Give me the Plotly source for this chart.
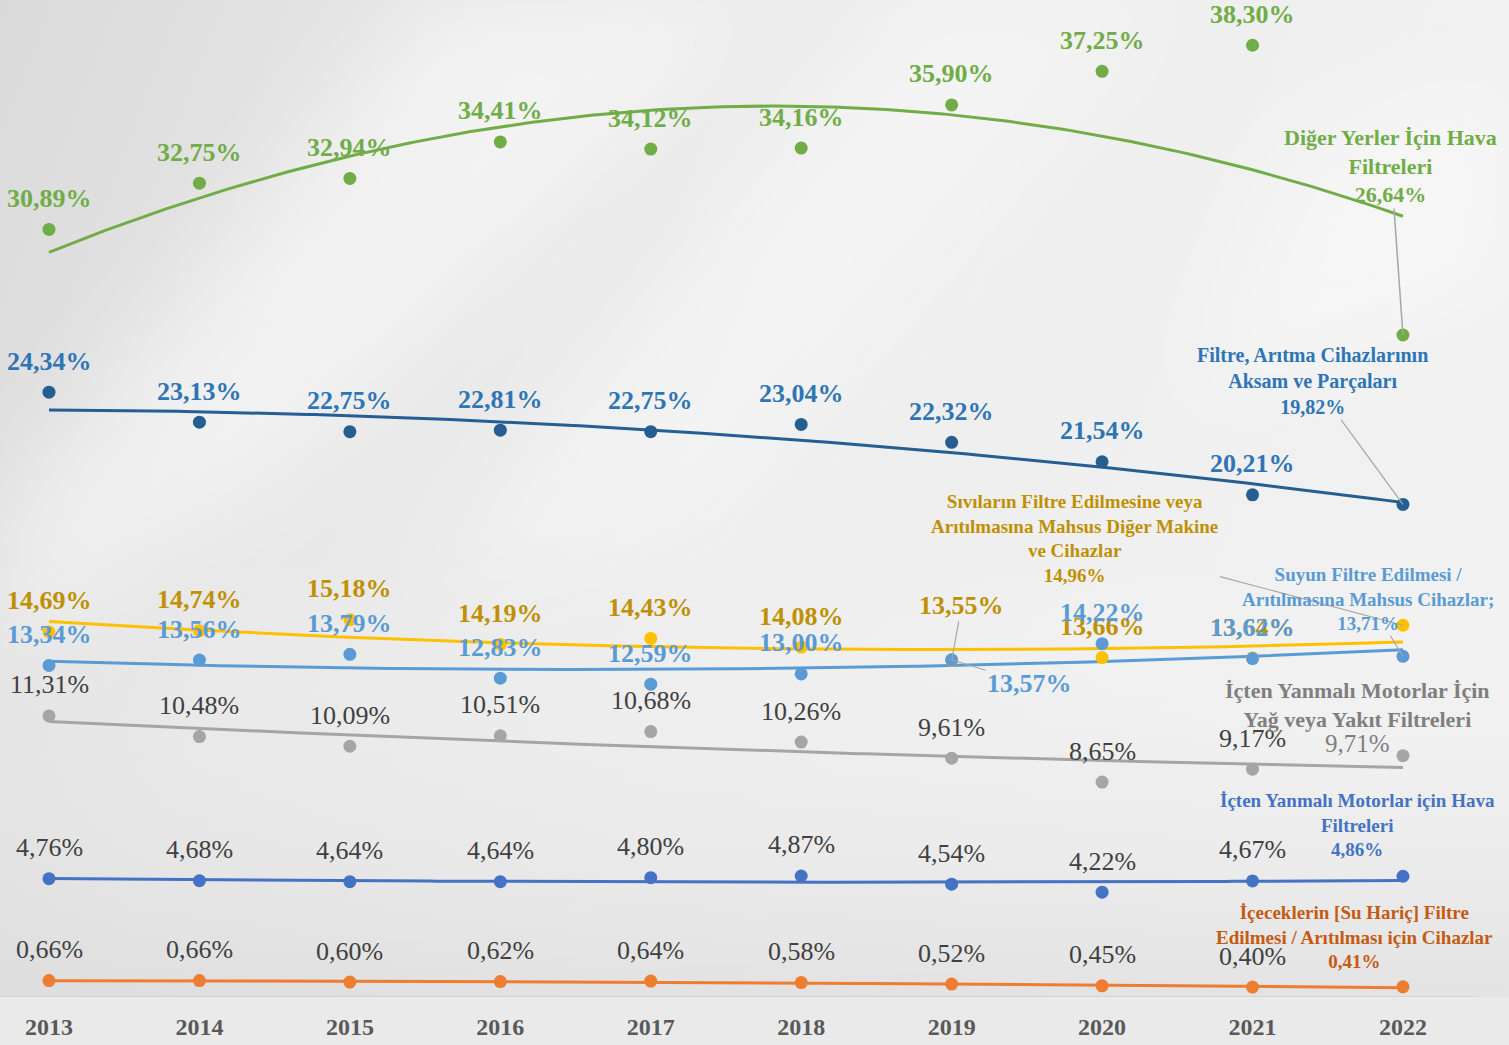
import base64
import numpy as np
import plotly.graph_objects as go

# ---------------- data ----------------
years = [2013, 2014, 2015, 2016, 2017, 2018, 2019, 2020, 2021, 2022]
year_labels = ["2013", "2014", "2015", "2016", "2017", "2018", "2019", "2020", "2021", "2022"]

name_green = "Diğer Yerler İçin Hava<br>Filtreleri"
vals_green = [30.89, 32.75, 32.94, 34.41, 34.12, 34.16, 35.90, 37.25, 38.30, 26.64]

name_darkblue = "Filtre, Arıtma Cihazlarının<br>Aksam ve Parçaları"
vals_darkblue = [24.34, 23.13, 22.75, 22.81, 22.75, 23.04, 22.32, 21.54, 20.21, 19.82]

name_yellow = "Sıvıların Filtre Edilmesine veya<br>Arıtılmasına Mahsus Diğer Makine<br>ve Cihazlar"
vals_yellow = [14.69, 14.74, 15.18, 14.19, 14.43, 14.08, 13.55, 13.66, 13.64, 14.96]

name_lightblue = "Suyun Filtre Edilmesi /<br>Arıtılmasına Mahsus Cihazlar;"
vals_lightblue = [13.34, 13.56, 13.79, 12.83, 12.59, 13.00, 13.57, 14.22, 13.62, 13.71]

name_gray = "İçten Yanmalı Motorlar İçin<br>Yağ veya Yakıt Filtreleri"
vals_gray = [11.31, 10.48, 10.09, 10.51, 10.68, 10.26, 9.61, 8.65, 9.17, 9.71]

name_blue = "İçten Yanmalı Motorlar için Hava<br>Filtreleri"
vals_blue = [4.76, 4.68, 4.64, 4.64, 4.80, 4.87, 4.54, 4.22, 4.67, 4.86]

name_orange = "İçeceklerin [Su Hariç] Filtre<br>Edilmesi / Arıtılması için Cihazlar"
vals_orange = [0.66, 0.66, 0.60, 0.62, 0.64, 0.58, 0.52, 0.45, 0.40, 0.41]

# ---------------- styles ----------------
SERIF = "Liberation Serif"
series = [
    # name, values, marker/line color, label color, bold labels
    (name_green, vals_green, "#70AD47", "#70AD47", True),
    (name_darkblue, vals_darkblue, "#255E91", "#2E75B6", True),
    (name_yellow, vals_yellow, "#FFC000", "#BF9000", True),
    (name_lightblue, vals_lightblue, "#5B9BD5", "#5B9BD5", True),
    (name_gray, vals_gray, "#A5A5A5", "#404040", False),
    (name_blue, vals_blue, "#4472C4", "#404040", False),
    (name_orange, vals_orange, "#ED7D31", "#404040", False),
]


def fmt(v):
    return f"{v:.2f}".replace(".", ",") + "%"


def txt(s, bold):
    return f"<b>{s}</b>" if bold else s


# background (soft grey gradient with blurred light streaks)
bg_svg = """<svg xmlns='http://www.w3.org/2000/svg' width='1509' height='1045'>
<defs>
<linearGradient id='g' x1='0' y1='0' x2='1' y2='0.25'>
<stop offset='0' stop-color='#DADADA'/>
<stop offset='0.3' stop-color='#E8E8E8'/>
<stop offset='0.6' stop-color='#EEEEEE'/>
<stop offset='1' stop-color='#F1F1F1'/>
</linearGradient>
<linearGradient id='v' x1='0' y1='0' x2='0' y2='1'>
<stop offset='0' stop-color='#FFFFFF' stop-opacity='0'/>
<stop offset='0.55' stop-color='#FFFFFF' stop-opacity='0'/>
<stop offset='1' stop-color='#D5D5D5' stop-opacity='0.5'/>
</linearGradient>
<filter id='b' x='-50%' y='-50%' width='200%' height='200%'><feGaussianBlur stdDeviation='45'/></filter>
</defs>
<rect width='1509' height='1045' fill='url(#g)'/>
<g filter='url(#b)'>
<polygon points='430,0 760,0 260,520 0,700 0,540' fill='#FFFFFF' opacity='0.45'/>
<polygon points='900,0 1150,0 700,560 420,620' fill='#FFFFFF' opacity='0.35'/>
<polygon points='1300,150 1509,60 1509,300 1200,420' fill='#FFFFFF' opacity='0.4'/>
</g>
<rect width='1509' height='1045' fill='url(#v)'/>
</svg>"""
bg_uri = "data:image/svg+xml;base64," + base64.b64encode(bg_svg.encode("utf-8")).decode("ascii")

fig = go.Figure()

xi = np.arange(len(years))
xs = np.linspace(0, len(years) - 1, 200)

for name, vals, col, lcol, bold in series:
    coef = np.polyfit(xi, vals, 2)
    fig.add_trace(go.Scatter(
        x=np.array(years[0]) + xs, y=np.polyval(coef, xs), mode="lines",
        line=dict(color=col, width=3), hoverinfo="skip", showlegend=False))
for name, vals, col, lcol, bold in series:
    fig.add_trace(go.Scatter(
        x=years, y=vals, mode="markers", marker=dict(color=col, size=13),
        name=name.replace("<br>", " "), showlegend=False))

annotations = []
DEFAULT_SHIFT = 31
# special placements (pixel offsets): (series index, point index) -> dict
special = {
    (2, 6): dict(arrow=True, ax=10, ay=-55),     # 13,55%
    (3, 6): dict(arrow=True, ax=78, ay=24),      # 13,57%
}

for si, (name, vals, col, lcol, bold) in enumerate(series):
    for pi, v in enumerate(vals[:-1]):
        sp = special.get((si, pi))
        font = dict(family=SERIF, size=26, color=lcol)
        if sp:
            annotations.append(dict(
                x=years[pi], y=v, text=txt(fmt(v), bold), showarrow=True,
                ax=sp["ax"], ay=sp["ay"], arrowhead=0, arrowwidth=1.2,
                arrowcolor="#A6A6A6", standoff=0, font=font))
        else:
            annotations.append(dict(
                x=years[pi], y=v, text=txt(fmt(v), bold), showarrow=False,
                xanchor="center", yanchor="middle", yshift=DEFAULT_SHIFT, font=font))

# end-of-series (2022) labels with series names
last = years[-1]
annotations.append(dict(
    x=last, y=vals_green[-1], text="<b>" + name_green + "<br>" + fmt(vals_green[-1]) + "</b>",
    showarrow=True, ax=-12, ay=-169, arrowhead=0, arrowwidth=1.5, arrowcolor="#A6A6A6",
    standoff=0, font=dict(family=SERIF, size=22, color="#70AD47")))
annotations.append(dict(
    x=last, y=vals_darkblue[-1], text="<b>" + name_darkblue + "<br>" + fmt(vals_darkblue[-1]) + "</b>",
    showarrow=True, ax=-90, ay=-123, arrowhead=0, arrowwidth=1.2, arrowcolor="#A6A6A6",
    standoff=0, font=dict(family=SERIF, size=20, color="#2E75B6")))
annotations.append(dict(
    x=last, y=vals_yellow[-1], text="<b>" + name_yellow + "<br>" + fmt(vals_yellow[-1]) + "</b>",
    showarrow=True, ax=-328, ay=-87, arrowhead=0, arrowwidth=1.2, arrowcolor="#A6A6A6",
    standoff=0, font=dict(family=SERIF, size=19, color="#BF9000")))
annotations.append(dict(
    x=last, y=vals_lightblue[-1], text="<b>" + name_lightblue + "<br>" + fmt(vals_lightblue[-1]) + "</b>",
    showarrow=True, ax=-35, ay=-57, arrowhead=0, arrowwidth=1.2, arrowcolor="#A6A6A6",
    standoff=0, font=dict(family=SERIF, size=19, color="#5B9BD5")))
annotations.append(dict(
    x=last, y=vals_gray[-1], text="<b>" + name_gray + "</b>", showarrow=False,
    xanchor="center", yanchor="middle", xshift=-45, yshift=51,
    font=dict(family=SERIF, size=22, color="#7F7F7F")))
annotations.append(dict(
    x=last, y=vals_gray[-1], text=fmt(vals_gray[-1]), showarrow=False,
    xanchor="center", yanchor="middle", xshift=-45, yshift=12,
    font=dict(family=SERIF, size=25, color="#7F7F7F")))
annotations.append(dict(
    x=last, y=vals_blue[-1], text="<b>" + name_blue + "<br>" + fmt(vals_blue[-1]) + "</b>",
    showarrow=False, xanchor="center", yanchor="middle", xshift=-45, yshift=51,
    font=dict(family=SERIF, size=19, color="#4472C4")))
annotations.append(dict(
    x=last, y=vals_orange[-1], text="<b>" + name_orange + "<br>" + fmt(vals_orange[-1]) + "</b>",
    showarrow=False, xanchor="center", yanchor="middle", xshift=-48, yshift=50,
    font=dict(family=SERIF, size=19, color="#C55A11")))

x0 = 2013 - 49 / 150.44
x1 = 2013 + (1509 - 49) / 150.44
ytop = 997 / 24.85

fig.update_layout(
    width=1509, height=1045,
    margin=dict(l=0, r=0, t=0, b=48, pad=0),
    paper_bgcolor="#EAEAEA", plot_bgcolor="rgba(0,0,0,0)",
    images=[dict(source=bg_uri, xref="paper", yref="paper", x=0, y=1, sizex=1, sizey=1,
                 xanchor="left", yanchor="top", sizing="stretch", layer="below")],
    xaxis=dict(range=[x0, x1], tickvals=years, ticktext=[f"<b>{t}</b>" for t in year_labels],
               showgrid=False, zeroline=False, showline=False, ticks="",
               tickfont=dict(family=SERIF, size=24, color="#595959"), ticklabelstandoff=13),
    yaxis=dict(range=[0, ytop], visible=False, showgrid=False, zeroline=False),
    shapes=[dict(type="line", xref="x", yref="y", x0=x0, x1=2022.5, y0=0, y1=0,
                 line=dict(color="#D4D4D4", width=2))],
    annotations=annotations,
    showlegend=False,
)

fig.write_html("out.html", config={"displayModeBar": False},
               post_script="document.body.style.margin='0';document.body.style.overflow='hidden';")
